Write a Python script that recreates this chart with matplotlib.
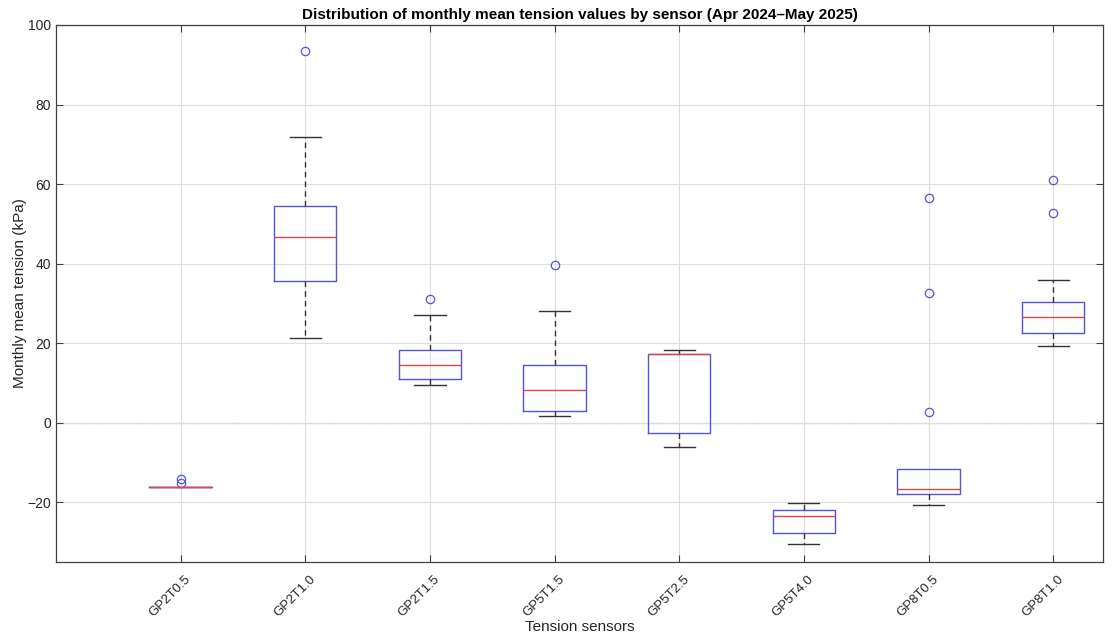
import matplotlib
matplotlib.use("Agg")
import matplotlib.pyplot as plt
import matplotlib.transforms as mtransforms

# sensor names and box statistics (kPa)
sensors = ["GP2T0.5", "GP2T1.0", "GP2T1.5", "GP5T1.5", "GP5T2.5", "GP5T4.0", "GP8T0.5", "GP8T1.0"]
whislo = [-16.2, 21.4, 9.5, 1.6, -6.0, -30.5, -20.7, 19.2]
q1 = [-16.2, 35.7, 11.0, 3.0, -2.6, -27.6, -18.0, 22.6]
med = [-16.2, 46.6, 14.6, 8.3, 17.3, -23.5, -16.6, 26.6]
q3 = [-16.2, 54.5, 18.2, 14.5, 17.3, -21.9, -11.6, 30.4]
whishi = [-16.2, 71.9, 27.2, 28.2, 18.2, -20.2, -11.6, 35.8]
outliers = [[-14.1, -15.1], [93.4], [31.0], [39.6], [], [], [2.6, 32.7, 56.4], [52.7, 61.1]]

plt.rcParams['font.family'] = ['Liberation Sans', 'DejaVu Sans']

stats = []
for i in range(len(sensors)):
    stats.append(dict(label=sensors[i], whislo=whislo[i], q1=q1[i], med=med[i],
                      q3=q3[i], whishi=whishi[i], fliers=outliers[i]))

fig = plt.figure(figsize=(11.15, 6.36), dpi=100)
ax = fig.add_axes([56/1115, 1-562/636, (1103-56)/1115, (562-25)/636])

bp = ax.bxp(stats, positions=range(1, len(sensors)+1), widths=0.5,
            boxprops=dict(color='#5555cc', linewidth=1.0),
            medianprops=dict(color='#e04848', linewidth=1.0, zorder=4),
            whiskerprops=dict(color='#333333', linewidth=1.0, linestyle=(0, (4, 3))),
            capprops=dict(color='#333333', linewidth=1.0),
            capwidths=0.25,
            flierprops=dict(marker='o', markerfacecolor='none', markeredgecolor='#5555cc',
                            markersize=6, linestyle='none', markeredgewidth=0.9))

# caps that sit right on the box edge are not drawn in the original
for i in range(len(sensors)):
    if whislo[i] == q1[i]:
        bp['caps'][2*i].set_visible(False)
    if whishi[i] == q3[i]:
        bp['caps'][2*i+1].set_visible(False)

ax.axhline(0, color='#555555', linestyle=':', linewidth=0.9, zorder=0)

ax.set_xlim(0, 8.4)
ax.set_ylim(-35, 100)
ax.set_yticks([-20, 0, 20, 40, 60, 80, 100])
ax.set_xticks(range(1, len(sensors)+1))

ax.grid(True, color='#dedede', linewidth=0.8)
ax.set_axisbelow(True)
ax.tick_params(direction='in', top=True, right=True, length=5, colors='#404040',
               labelsize=10, labelcolor='#262626')
ax.tick_params(axis='x', pad=8, labelsize=9.5)
for s in ax.spines.values():
    s.set_color('#404040')
    s.set_linewidth(0.9)

ax.set_xticklabels(sensors, rotation=45, ha='right', va='top', rotation_mode='anchor')
# nudge the rotated labels to the right, as in the original
shift = mtransforms.ScaledTranslation(4/100, 0, fig.dpi_scale_trans)
for lbl in ax.get_xticklabels():
    lbl.set_transform(lbl.get_transform() + shift)

ax.set_title('Distribution of monthly mean tension values by sensor (Apr 2024\u2013May 2025)',
             fontsize=11, fontweight='bold', pad=4)
ax.set_xlabel('Tension sensors', fontsize=11, color='#262626', labelpad=1)
ax.set_ylabel('Monthly mean tension (kPa)', fontsize=11, color='#262626', labelpad=0)

fig.savefig('out.png', dpi=100)
